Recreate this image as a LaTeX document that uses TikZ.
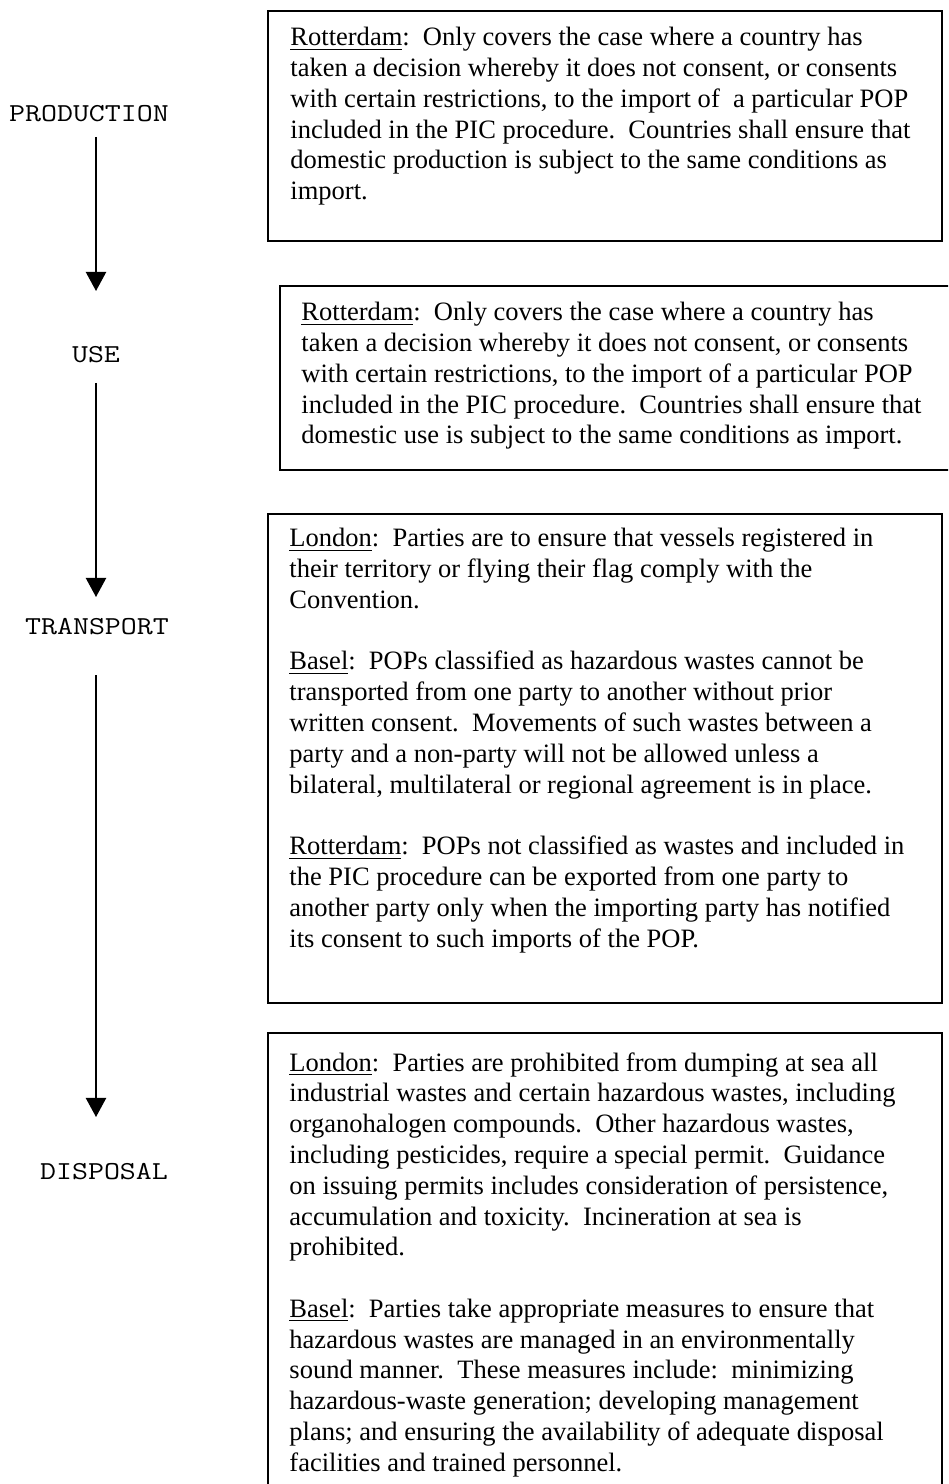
\documentclass[tikz,border=0pt]{standalone}
\usepackage{fontspec}
\setmainfont{Liberation Serif}
\newfontfamily\stepfont[FakeStretch=1.2]{Latin Modern Mono}
\usetikzlibrary{arrows.meta}

\begin{document}
\begin{tikzpicture}[x=0.445pt, y=-0.445pt,
    stage/.style={font=\stepfont\fontsize{11.5}{14}\selectfont, anchor=base, inner sep=0pt},
    flow/.style={line width=0.8pt, -{Triangle[width=9pt, length=8.5pt]}},
    frame/.style={line width=0.8pt},
    note/.style={font=\fontsize{11.8}{13.7}\selectfont, align=left, anchor=north west, inner sep=0pt}]
    \useasboundingbox (0, 0) rectangle (948, 1484);
    \clip (0, 0) rectangle (948, 1484);

    % Etapes
    \node[stage] (production) at (89, 122) {PRODUCTION};
    \node[stage] (use) at (96, 363) {USE};
    \node[stage] (transport) at (97, 634) {TRANSPORT};
    \node[stage] (disposal) at (104, 1179) {DISPOSAL};

    % Fleches
    \coordinate (prodout) at (96, 137);
    \coordinate (usein) at (96, 291);
    \coordinate (useout) at (96, 383);
    \coordinate (transin) at (96, 597);
    \coordinate (transout) at (96, 675);
    \coordinate (dispin) at (96, 1117);
    \draw[flow] (prodout) -- (usein);
    \draw[flow] (useout) -- (transin);
    \draw[flow] (transout) -- (dispin);

    % Cadres
    \draw[frame] (268, 11) rectangle (942, 241);
    \draw[frame] (280, 286) rectangle (960, 470);
    \draw[frame] (268, 514) rectangle (942, 1003);
    \draw[frame] (268, 1033) rectangle (942, 1500);

    % Textes
    \node[note] (prodnote) at (290, 27) {\underline{Rotterdam}:\ \ Only covers the case where a country has\\
      taken a decision whereby it does not consent, or consents\\
      with certain restrictions, to the import of\ \ a particular POP\\
      included in the PIC procedure.\ \ Countries shall ensure that\\
      domestic production is subject to the same conditions as\\
      import.};
    \node[note] (usenote) at (301, 302) {\underline{Rotterdam}:\ \ Only covers the case where a country has\\
      taken a decision whereby it does not consent, or consents\\
      with certain restrictions, to the import of a particular POP\\
      included in the PIC procedure.\ \ Countries shall ensure that\\
      domestic use is subject to the same conditions as import.};
    \node[note] (transnote) at (289, 528) {\underline{London}:\ \ Parties are to ensure that vessels registered in\\
      their territory or flying their flag comply with the\\
      Convention.\\[\baselineskip]
      \underline{Basel}:\ \ POPs classified as hazardous wastes cannot be\\
      transported from one party to another without prior\\
      written consent.\ \ Movements of such wastes between a\\
      party and a non-party will not be allowed unless a\\
      bilateral, multilateral or regional agreement is in place.\\[\baselineskip]
      \underline{Rotterdam}:\ \ POPs not classified as wastes and included in\\
      the PIC procedure can be exported from one party to\\
      another party only when the importing party has notified\\
      its consent to such imports of the POP.};
    \node[note] (dispnote) at (289, 1052) {\underline{London}:\ \ Parties are prohibited from dumping at sea all\\
      industrial wastes and certain hazardous wastes, including\\
      organohalogen compounds.\ \ Other hazardous wastes,\\
      including pesticides, require a special permit.\ \ Guidance\\
      on issuing permits includes consideration of persistence,\\
      accumulation and toxicity.\ \ Incineration at sea is\\
      prohibited.\\[\baselineskip]
      \underline{Basel}:\ \ Parties take appropriate measures to ensure that\\
      hazardous wastes are managed in an environmentally\\
      sound manner.\ \ These measures include:\ \ minimizing\\
      hazardous-waste generation; developing management\\
      plans; and ensuring the availability of adequate disposal\\
      facilities and trained personnel.};
  \end{tikzpicture}
\end{document}
